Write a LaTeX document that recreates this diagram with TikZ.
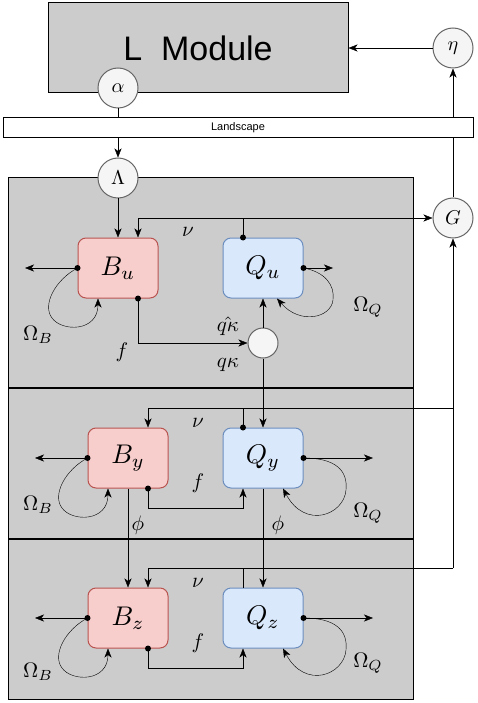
\documentclass[tikz,border=0pt]{standalone}
\usepackage{fontspec}
\newfontfamily\arialf{Liberation Sans}
\usetikzlibrary{arrows.meta,backgrounds,calc}
\definecolor{panelgray}{HTML}{CCCCCC}
\definecolor{bfill}{HTML}{F8CECC}
\definecolor{bdraw}{HTML}{B85450}
\definecolor{qfill}{HTML}{DAE8FC}
\definecolor{qdraw}{HTML}{6C8EBF}
\definecolor{cfill}{HTML}{F5F5F5}
\definecolor{cdraw}{HTML}{666666}
\newcommand{\lblmath}[1]{\scalebox{2.1}{$#1$}}
\newcommand{\boxmath}[1]{\scalebox{2.7}{$#1$}}
\newcommand{\crcmath}[1]{\scalebox{2.0}{$#1$}}
\begin{document}
\begin{tikzpicture}[x=1pt,y=-1pt,line width=1pt,
  arr/.style={-{Stealth[length=9pt,width=7pt,inset=2.5pt]}},
  crc/.style={circle,draw=cdraw,fill=cfill,minimum size=40pt,inner sep=0pt},
  bbox/.style={rectangle,rounded corners=8pt,draw=bdraw,fill=bfill,minimum width=80pt,minimum height=60pt,inner sep=0pt},
  qbox/.style={rectangle,rounded corners=8pt,draw=qdraw,fill=qfill,minimum width=80pt,minimum height=60pt,inner sep=0pt},
  panel/.style={rectangle,draw=black,fill=panelgray,inner sep=0pt,minimum width=405pt},
  lbl/.style={inner sep=0pt},
  dotmark/.style={circle,fill=black,inner sep=0pt,minimum size=6pt}
]
\useasboundingbox (0,0) rectangle (477,703);

% top module
\node[draw,fill=panelgray,minimum width=300pt,minimum height=90pt,inner sep=0pt,font=\arialf\fontsize{34}{40}\selectfont] (lmod) at (198,48) {L\ \ Module};
\node[crc] (eta) at (453,48) {\crcmath{\eta}};
\node[crc] (alpha) at (118,88) {\crcmath{\alpha}};
\node[draw,fill=white,minimum width=470pt,minimum height=20pt,inner sep=0pt,font=\arialf\fontsize{11}{13}\selectfont] (land) at (238,128) {Landscape};
\node[crc] (G) at (453,218) {\crcmath{G}};

% panels
\node[panel,minimum height=209.5pt] (p1) at (210.5,282.75) {};
\node[panel,minimum height=150pt] (p2) at (210.5,463.5) {};
\node[panel,minimum height=159.5pt] (p3) at (210.5,619.25) {};
\node[crc] (Lambda) at (118,178) {\crcmath{\Lambda}};

% boxes
\node[bbox] (Bu) at (118,268) {\boxmath{B_u}};
\node[qbox] (Qu) at (263,268) {\boxmath{Q_u}};
\node[bbox] (By) at (128,458) {\boxmath{B_y}};
\node[qbox] (Qy) at (263,458) {\boxmath{Q_y}};
\node[bbox] (Bz) at (128,618) {\boxmath{B_z}};
\node[qbox] (Qz) at (263,618) {\boxmath{Q_z}};
\node[crc,minimum size=30pt] (sc) at (263,343) {};

% coordinates
\coordinate (buL) at (25,268);
\coordinate (quR) at (333,268);
\coordinate (byL) at (35,458);
\coordinate (qyR) at (373,458);
\coordinate (bzL) at (35,618);
\coordinate (qzR) at (373,618);
\coordinate (nu1) at (243,218);
\coordinate (nu2) at (243,408);
\coordinate (nu3) at (243,568);
\coordinate (g2) at (453,408);
\coordinate (g3) at (453,568);
\coordinate (quN) at ($(Qu.north)+(-20,0)$);
\coordinate (qyN) at ($(Qy.north)+(-20,0)$);
\coordinate (qzN) at ($(Qz.north)+(-20,0)$);
\coordinate (buN) at ($(Bu.north)+(20,0)$);
\coordinate (byN) at ($(By.north)+(20,0)$);
\coordinate (bzN) at ($(Bz.north)+(20,0)$);
\coordinate (buS) at ($(Bu.south)+(20,0)$);
\coordinate (byS) at ($(By.south)+(20,0)$);
\coordinate (bzS) at ($(Bz.south)+(20,0)$);
\coordinate (qyS) at ($(Qy.south)+(-20,0)$);
\coordinate (qzS) at ($(Qz.south)+(-20,0)$);
\coordinate (fy) at ($(byS)+(0,20)$);
\coordinate (fz) at ($(bzS)+(0,20)$);

% background line G -> eta (behind landscape bar)
\begin{pgfonlayer}{background}
\draw[arr] (G.north) -- (eta.south);
\end{pgfonlayer}

% top connectors
\draw[arr] (eta.west) -- (lmod.east);
\draw (alpha.south) -- (alpha.south |- land.north);
\draw[arr] (alpha.south |- land.south) -- (Lambda.north);
\draw[arr] (Lambda.south) -- (Bu.north);

% panel 1
\draw[arr] (quN) |- (G.west);
\draw[arr] (nu1) -| (buN);
\draw[arr] (buS) |- (sc.west);
\draw[arr] (sc.north) -- (Qu.south);
\draw[arr] (sc.south) -- (Qy.north);
\draw[arr] (Bu.west) -- (buL);
\draw[arr] (Qu.east) -- (quR);
\draw[arr] (Bu.west) .. controls (55,280) and (42,305) .. (52,318) .. controls (62,332) and (98,332) .. ($(Bu.south)+(-20,0)$);
\draw[arr] (Qu.east) .. controls (325,272) and (335,285) .. (333,300) .. controls (331,318) and (300,325) .. ($(Qu.south)+(14,0)$);

% panel 2
\draw (qyN) |- (g2);
\draw[arr] (nu2) -| (byN);
\draw[arr] (byS) -- (fy) -| (qyS);
\draw[arr] (By.west) -- (byL);
\draw[arr] (Qy.east) -- (qyR);
\draw[arr] (By.west) .. controls (65,470) and (52,495) .. (62,508) .. controls (72,522) and (108,522) .. ($(By.south)+(-20,0)$);
\draw[arr] (Qy.east) .. controls (335,458) and (348,470) .. (346,490) .. controls (344,515) and (305,530) .. ($(Qy.south)+(20,0)$);
\draw[arr] (By.south) -- (Bz.north);
\draw[arr] (Qy.south) -- (Qz.north);

% panel 3
\draw (qzN) |- (g3);
\draw[arr] (nu3) -| (bzN);
\draw[arr] (g3) -- (G.south);
\draw[arr] (bzS) -- (fz) -| (qzS);
\draw[arr] (Bz.west) -- (bzL);
\draw[arr] (Qz.east) -- (qzR);
\draw[arr] (Bz.west) .. controls (65,630) and (52,655) .. (62,668) .. controls (72,682) and (108,682) .. ($(Bz.south)+(-20,0)$);
\draw[arr] (Qz.east) .. controls (335,618) and (348,630) .. (346,650) .. controls (344,675) and (305,690) .. ($(Qz.south)+(20,0)$);

% dots
\foreach \p in {quN,qyN,buS,byS,bzS} \node[dotmark] at (\p) {};
\foreach \p in {Bu.west,Qu.east,By.west,Qy.east,Bz.west,Qz.east} \node[dotmark] at (\p) {};

% labels
\node[lbl] (lnu1) at (188,232) {\lblmath{\nu}};
\node[lbl] (lob1) at (38,335) {\lblmath{\Omega_B}};
\node[lbl] (loq1) at (368,307) {\lblmath{\Omega_Q}};
\node[lbl] (lf1) at (122,352) {\lblmath{f}};
\node[lbl] (lqh) at (228,326) {\lblmath{\hat{q\kappa}}};
\node[lbl] (lq) at (228,365) {\lblmath{q\kappa}};

\node[lbl] (lnu2) at (198,423) {\lblmath{\nu}};
\node[lbl] (lf2) at (198,483) {\lblmath{f}};
\node[lbl] (lob2) at (38,505) {\lblmath{\Omega_B}};
\node[lbl] (loq2) at (368,513) {\lblmath{\Omega_Q}};
\node[lbl] (lph1) at (138,525) {\lblmath{\phi}};
\node[lbl] (lph2) at (278,525) {\lblmath{\phi}};

\node[lbl] (lnu3) at (198,583) {\lblmath{\nu}};
\node[lbl] (lf3) at (198,643) {\lblmath{f}};
\node[lbl] (lob3) at (38,672) {\lblmath{\Omega_B}};
\node[lbl] (loq3) at (368,663) {\lblmath{\Omega_Q}};
\end{tikzpicture}
\end{document}
